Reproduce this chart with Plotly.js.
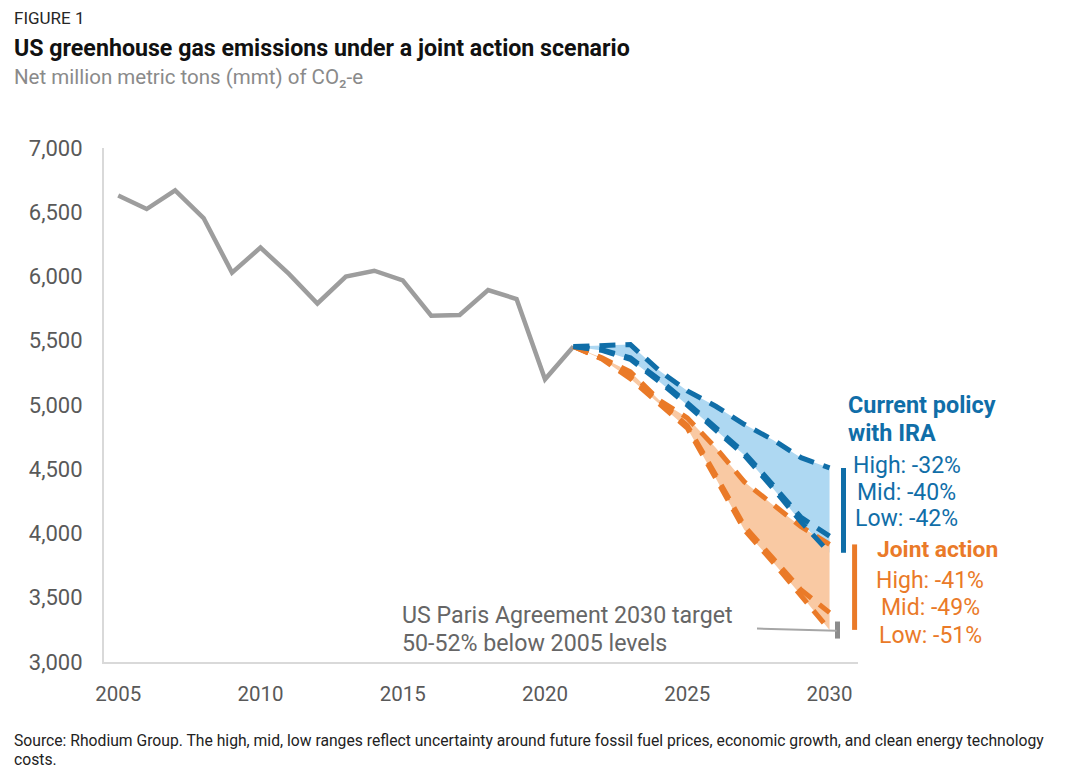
<!DOCTYPE html>
<html>
<head>
<meta charset="utf-8">
<script src="https://cdn.plot.ly/plotly-3.0.1.min.js"></script>
<style>html,body{margin:0;padding:0;background:#fff;}#chart{width:1066px;height:783px;}</style>
</head>
<body>
<div id="chart"></div>
<script>
// ---- data ----
const histYears = [2005,2006,2007,2008,2009,2010,2011,2012,2013,2014,2015,2016,2017,2018,2019,2020,2021];
const histValues = [6630,6525,6670,6455,6030,6225,6020,5790,6000,6045,5970,5695,5700,5895,5825,5200,5455];

const projYears = [2021,2022,2023,2024,2025,2026,2027,2028,2029,2030];
const currentHigh = [5455,5460,5470,5270,5110,4990,4850,4730,4590,4510];
const currentMid  = [5455,5430,5367,5200,5017,4823,4630,4380,4125,3980];
const currentLow  = [5455,5425,5355,5185,5000,4805,4610,4355,4090,3850];
const jointHigh   = [5455,5367,5258,5040,4900,4667,4403,4224,4053,3915];
const jointMid    = [5455,5362,5220,5025,4840,4455,4060,3810,3560,3384];
const jointLow    = [5455,5358,5205,5010,4820,4430,4030,3780,3520,3250];

const xTicks = [2005,2010,2015,2020,2025,2030];
const yTicks = [3000,3500,4000,4500,5000,5500,6000,6500,7000];

const currentTitle = ["Current policy","with IRA"];
const currentLabels = ["High: -32%","Mid: -40%","Low: -42%"];
const jointTitle = ["Joint action"];
const jointLabels = ["High: -41%","Mid: -49%","Low: -51%"];
const parisLines = ["US Paris Agreement 2030 target","50-52% below 2005 levels"];
const parisTargetPct = [50,52];

// ---- styling ----
const BLUE = '#106ea8', BLUE_FILL = '#aed8f2';
const ORANGE = '#ea7a28', ORANGE_FILL = '#f9c9a3';
const GRAY = '#9d9d9d';
const FONT = 'Roboto, "Open Sans", sans-serif';
const DASH = '16px,10px';

const W = 1066, H = 783, ML = 104, MR = 208, MT = 148, MB = 121;
const PW = W - ML - MR, PH = H - MT - MB;
const px = x => (x - ML) / PW;
const py = y => (H - MB - y) / PH;

const last = a => a[a.length - 1];
const base2005 = histValues[0];

const fillTrace = (y, fill, color) => ({x: projYears, y: y, mode: 'lines', fill: fill, fillcolor: color,
  line: {width: 0, color: color}, hoverinfo: 'skip', showlegend: false});
const dashTrace = (y, color) => ({x: projYears, y: y, mode: 'lines', line: {width: 5, color: color, dash: DASH}, showlegend: false});

const traces = [
  fillTrace(currentHigh, 'none', BLUE_FILL),
  fillTrace(currentLow, 'tonexty', BLUE_FILL),
  fillTrace(jointHigh, 'none', ORANGE_FILL),
  fillTrace(jointLow, 'tonexty', ORANGE_FILL),
  {x: histYears, y: histValues, mode: 'lines', line: {width: 4.5, color: GRAY}, showlegend: false},
  dashTrace(jointHigh, ORANGE), dashTrace(jointMid, ORANGE), dashTrace(jointLow, ORANGE),
  dashTrace(currentHigh, BLUE), dashTrace(currentMid, BLUE), dashTrace(currentLow, BLUE)
];

const tHigh = base2005 * (1 - parisTargetPct[0] / 100);
const tLow = base2005 * (1 - parisTargetPct[1] / 100);

const shapes = [
  {type: 'line', xref: 'x', yref: 'y', x0: 2030.49, x1: 2030.49, y0: last(currentHigh), y1: last(currentLow), line: {color: BLUE, width: 5}},
  {type: 'line', xref: 'x', yref: 'y', x0: 2030.88, x1: 2030.88, y0: last(jointHigh), y1: last(jointLow), line: {color: ORANGE, width: 5}},
  {type: 'line', xref: 'x', yref: 'y', x0: 2030.28, x1: 2030.28, y0: tHigh, y1: tLow, line: {color: '#8c8c8c', width: 5}},
  {type: 'line', xref: 'x', yref: 'y', x0: 2027.45, x1: 2030.25, y0: (tHigh + tLow) / 2 + 12, y1: (tHigh + tLow) / 2 - 5, line: {color: '#a6a6a6', width: 2}}
];

const ann = (text, x, y, opts) => Object.assign({
  text: text, xref: 'paper', yref: 'paper', x: px(x), y: py(y),
  xanchor: 'left', yanchor: 'middle', showarrow: false, align: 'left'
}, opts);

const annotations = [
  ann('FIGURE 1', 12, 18, {font: {family: FONT, size: 17, color: '#262626'}}),
  ann('<b>US greenhouse gas emissions under a joint action scenario</b>', 12, 48, {font: {family: FONT, size: 23.2, color: '#111111'}}),
  ann('Net million metric tons (mmt) of CO₂-e', 12, 77, {font: {family: FONT, size: 20.5, color: '#8a8a8a'}}),
  ann('Source: Rhodium Group. The high, mid, low ranges reflect uncertainty around future fossil fuel prices, economic growth, and clean energy technology', 12, 740, {font: {family: FONT, size: 15.7, color: '#222222'}}),
  ann('costs.', 12, 759, {font: {family: FONT, size: 15.7, color: '#222222'}})
];
const cY = [405, 433];
currentTitle.forEach((t, i) => annotations.push(ann('<b>' + t + '</b>', 846, cY[i], {font: {family: FONT, size: 23.4, color: BLUE}})));
const cLY = [465, 492, 518];
currentLabels.forEach((t, i) => annotations.push(ann(t, 907, cLY[i], {xanchor: 'center', font: {family: FONT, size: 23, color: BLUE}})));
annotations.push(ann('<b>' + jointTitle[0] + '</b>', 937, 549, {xanchor: 'center', font: {family: FONT, size: 22.8, color: ORANGE}}));
const jLY = [580, 607, 635];
jointLabels.forEach((t, i) => annotations.push(ann(t, 930, jLY[i], {xanchor: 'center', font: {family: FONT, size: 23, color: ORANGE}})));
const pY = [615, 643];
parisLines.forEach((t, i) => annotations.push(ann(t, 400, pY[i], {font: {family: FONT, size: 23.2, color: '#666666'}})));

const layout = {
  width: W, height: H,
  margin: {l: ML, r: MR, t: MT, b: MB},
  paper_bgcolor: '#ffffff', plot_bgcolor: '#ffffff',
  showlegend: false,
  font: {family: FONT},
  xaxis: {
    range: [2004.5, 2031.0], tickvals: xTicks, ticktext: xTicks.map(String),
    showgrid: false, zeroline: false, showline: true, linecolor: '#d9d9d9', linewidth: 2,
    ticks: '', ticklabelstandoff: 12,
    tickfont: {family: FONT, size: 20.5, color: '#595959'}
  },
  yaxis: {
    range: [3000, 7000], tickvals: yTicks, ticktext: yTicks.map(v => v.toLocaleString('en-US')),
    showgrid: false, zeroline: false, showline: true, linecolor: '#d9d9d9', linewidth: 2,
    ticks: '', ticklabelstandoff: 15,
    tickfont: {family: FONT, size: 22, color: '#595959'}
  },
  shapes: shapes,
  annotations: annotations
};

Plotly.newPlot('chart', traces, layout, {staticPlot: true, displayModeBar: false});
</script>
</body>
</html>
